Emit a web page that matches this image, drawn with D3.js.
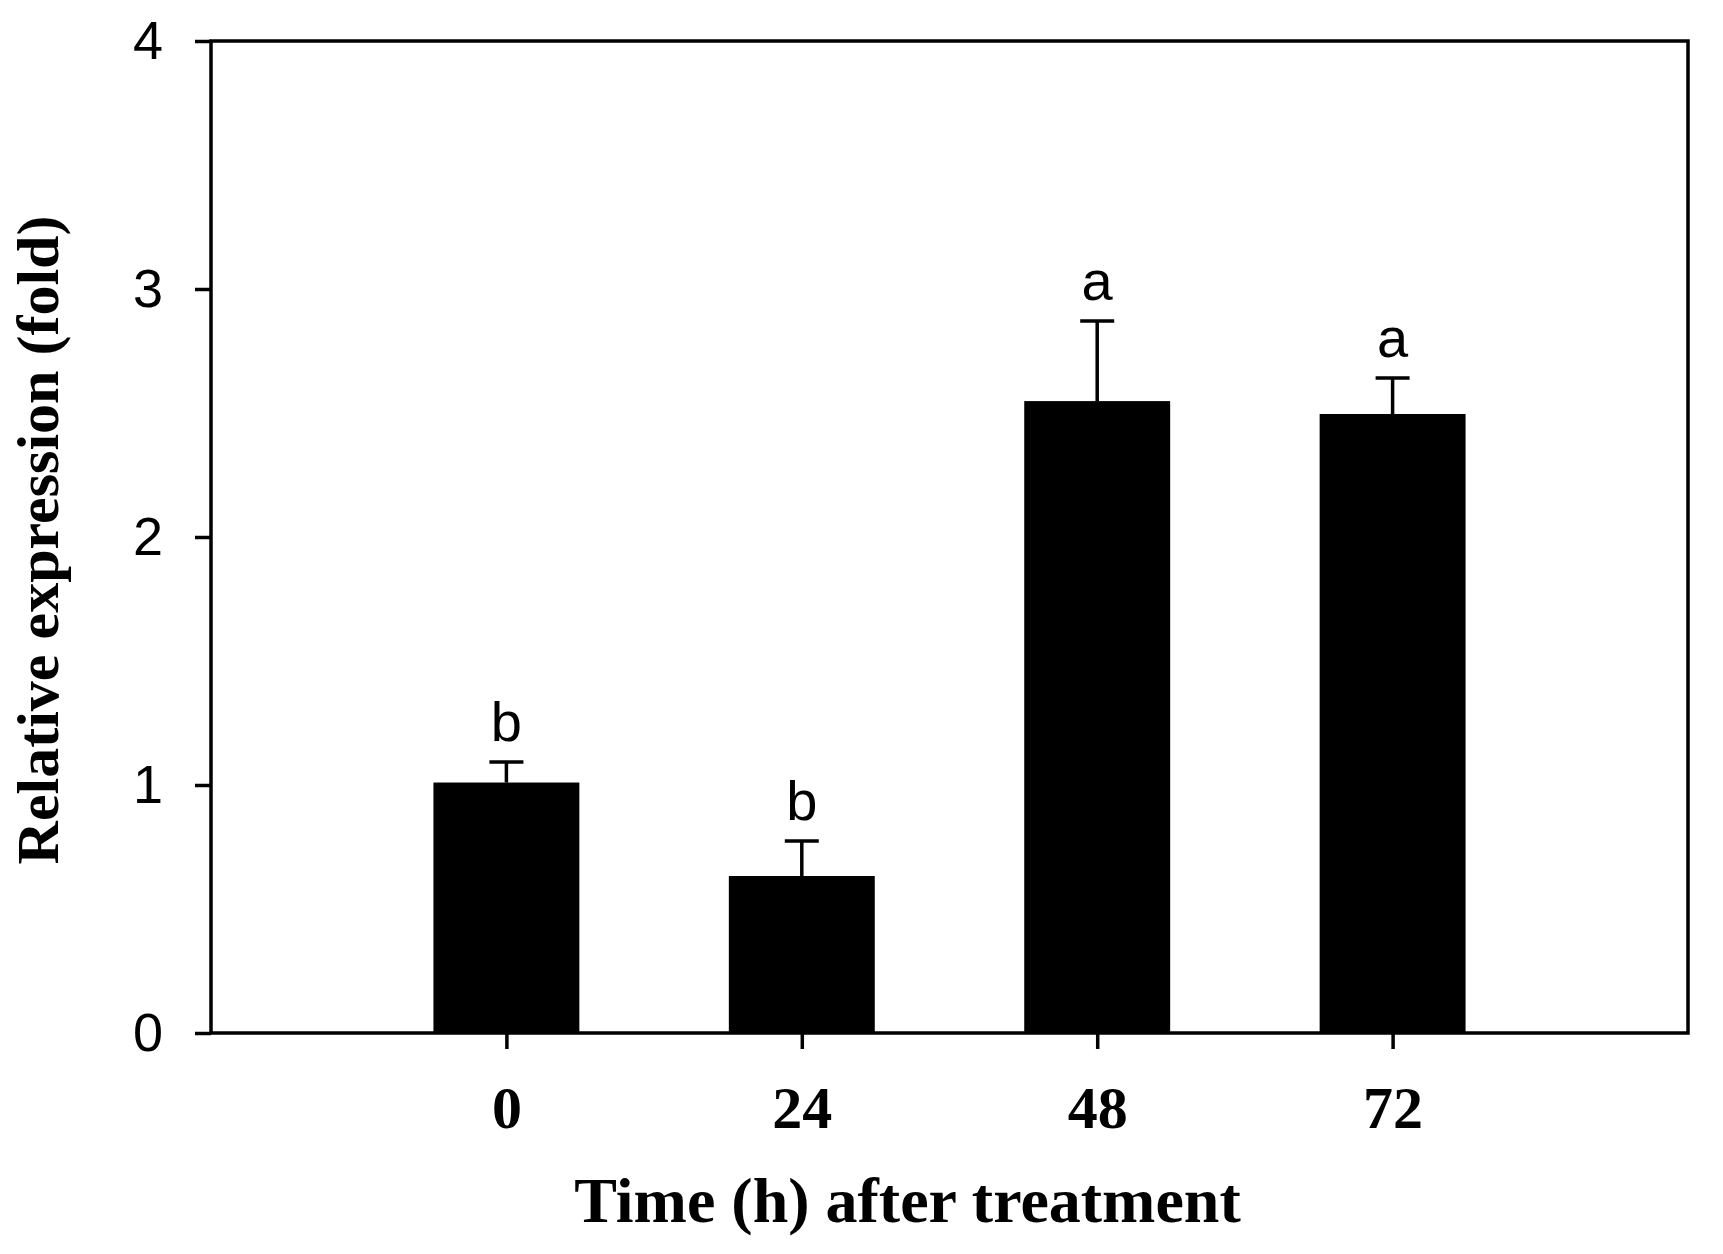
<!DOCTYPE html>
<html>
<head>
<meta charset="utf-8">
<script src="https://cdn.jsdelivr.net/npm/d3@7"></script>
<style>
  html, body { margin: 0; padding: 0; background: #fff; }
  svg { display: block; }
</style>
</head>
<body>
<svg id="chart" width="1723" height="1254"></svg>
<script>
const categories = ["0", "24", "48", "72"];
const values = [1.01, 0.633, 2.548, 2.496];
const errors = [0.083, 0.141, 0.323, 0.145];
const letters = ["b", "b", "a", "a"];
const yTicks = [0, 1, 2, 3, 4];
const xTitle = "Time (h) after treatment";
const yTitle = "Relative expression (fold)";

(function () {
const svg = d3.select("#chart");
const pLeft = 211, pRight = 1688, pTop = 41, pBottom = 1033;

const x = d3.scalePoint().domain(categories).range([pLeft, pRight]).padding(1);
const y = d3.scaleLinear().domain([0, 4]).range([pBottom, pTop]);
const barW = x.step() * 0.494;

svg.append("rect").attr("width", 1723).attr("height", 1254).attr("fill", "#fff");

// bars
svg.selectAll("rect.bar").data(values).enter().append("rect")
  .attr("class", "bar")
  .attr("x", (d, i) => x(categories[i]) - barW / 2)
  .attr("y", d => y(d))
  .attr("width", barW)
  .attr("height", d => y(0) - y(d))
  .attr("fill", "#000");

// error bars (upper only)
const eg = svg.selectAll("g.err").data(values).enter().append("g").attr("class", "err");
eg.append("line")
  .attr("x1", (d, i) => x(categories[i])).attr("x2", (d, i) => x(categories[i]))
  .attr("y1", d => y(d)).attr("y2", (d, i) => y(d + errors[i]))
  .attr("stroke", "#000").attr("stroke-width", 3.5);
eg.append("line")
  .attr("x1", (d, i) => x(categories[i]) - 17).attr("x2", (d, i) => x(categories[i]) + 17)
  .attr("y1", (d, i) => y(d + errors[i])).attr("y2", (d, i) => y(d + errors[i]))
  .attr("stroke", "#000").attr("stroke-width", 3.5);

// significance letters
svg.selectAll("text.sig").data(values).enter().append("text")
  .attr("class", "sig")
  .attr("x", (d, i) => x(categories[i]))
  .attr("y", (d, i) => y(d + errors[i]) - 21)
  .attr("text-anchor", "middle")
  .attr("font-family", "Liberation Sans, Arial, sans-serif")
  .attr("font-size", 56)
  .text((d, i) => letters[i]);

// frame
svg.append("rect")
  .attr("x", pLeft).attr("y", pTop)
  .attr("width", pRight - pLeft).attr("height", pBottom - pTop)
  .attr("fill", "none").attr("stroke", "#000").attr("stroke-width", 3.5);

// y axis
const yAxis = svg.append("g").attr("transform", `translate(${pLeft},0)`)
  .call(d3.axisLeft(y).tickValues(yTicks).tickSize(16).tickPadding(32).tickFormat(d3.format("d")));
yAxis.select(".domain").remove();
yAxis.selectAll(".tick line").attr("stroke", "#000").attr("stroke-width", 3.5);
yAxis.selectAll(".tick text")
  .attr("font-family", "Liberation Sans, Arial, sans-serif")
  .attr("font-size", 54).attr("fill", "#000");

// x axis
const xAxis = svg.append("g").attr("transform", `translate(0,${pBottom})`)
  .call(d3.axisBottom(x).tickSize(16).tickPadding(36));
xAxis.select(".domain").remove();
xAxis.selectAll(".tick line").attr("stroke", "#000").attr("stroke-width", 3.5);
xAxis.selectAll(".tick text")
  .attr("font-family", "Liberation Serif, Times New Roman, serif")
  .attr("font-weight", "bold")
  .attr("font-size", 60).attr("fill", "#000");

// axis titles
svg.append("text")
  .attr("x", (pLeft + pRight) / 2 - 42).attr("y", 1222)
  .attr("text-anchor", "middle")
  .attr("font-family", "Liberation Serif, Times New Roman, serif")
  .attr("font-weight", "bold").attr("font-size", 64)
  .text(xTitle);

svg.append("text")
  .attr("transform", `translate(58,${(pTop + pBottom) / 2 + 3}) rotate(-90)`)
  .attr("text-anchor", "middle")
  .attr("font-family", "Liberation Serif, Times New Roman, serif")
  .attr("font-weight", "bold").attr("font-size", 60)
  .text(yTitle);
})();
</script>
</body>
</html>
